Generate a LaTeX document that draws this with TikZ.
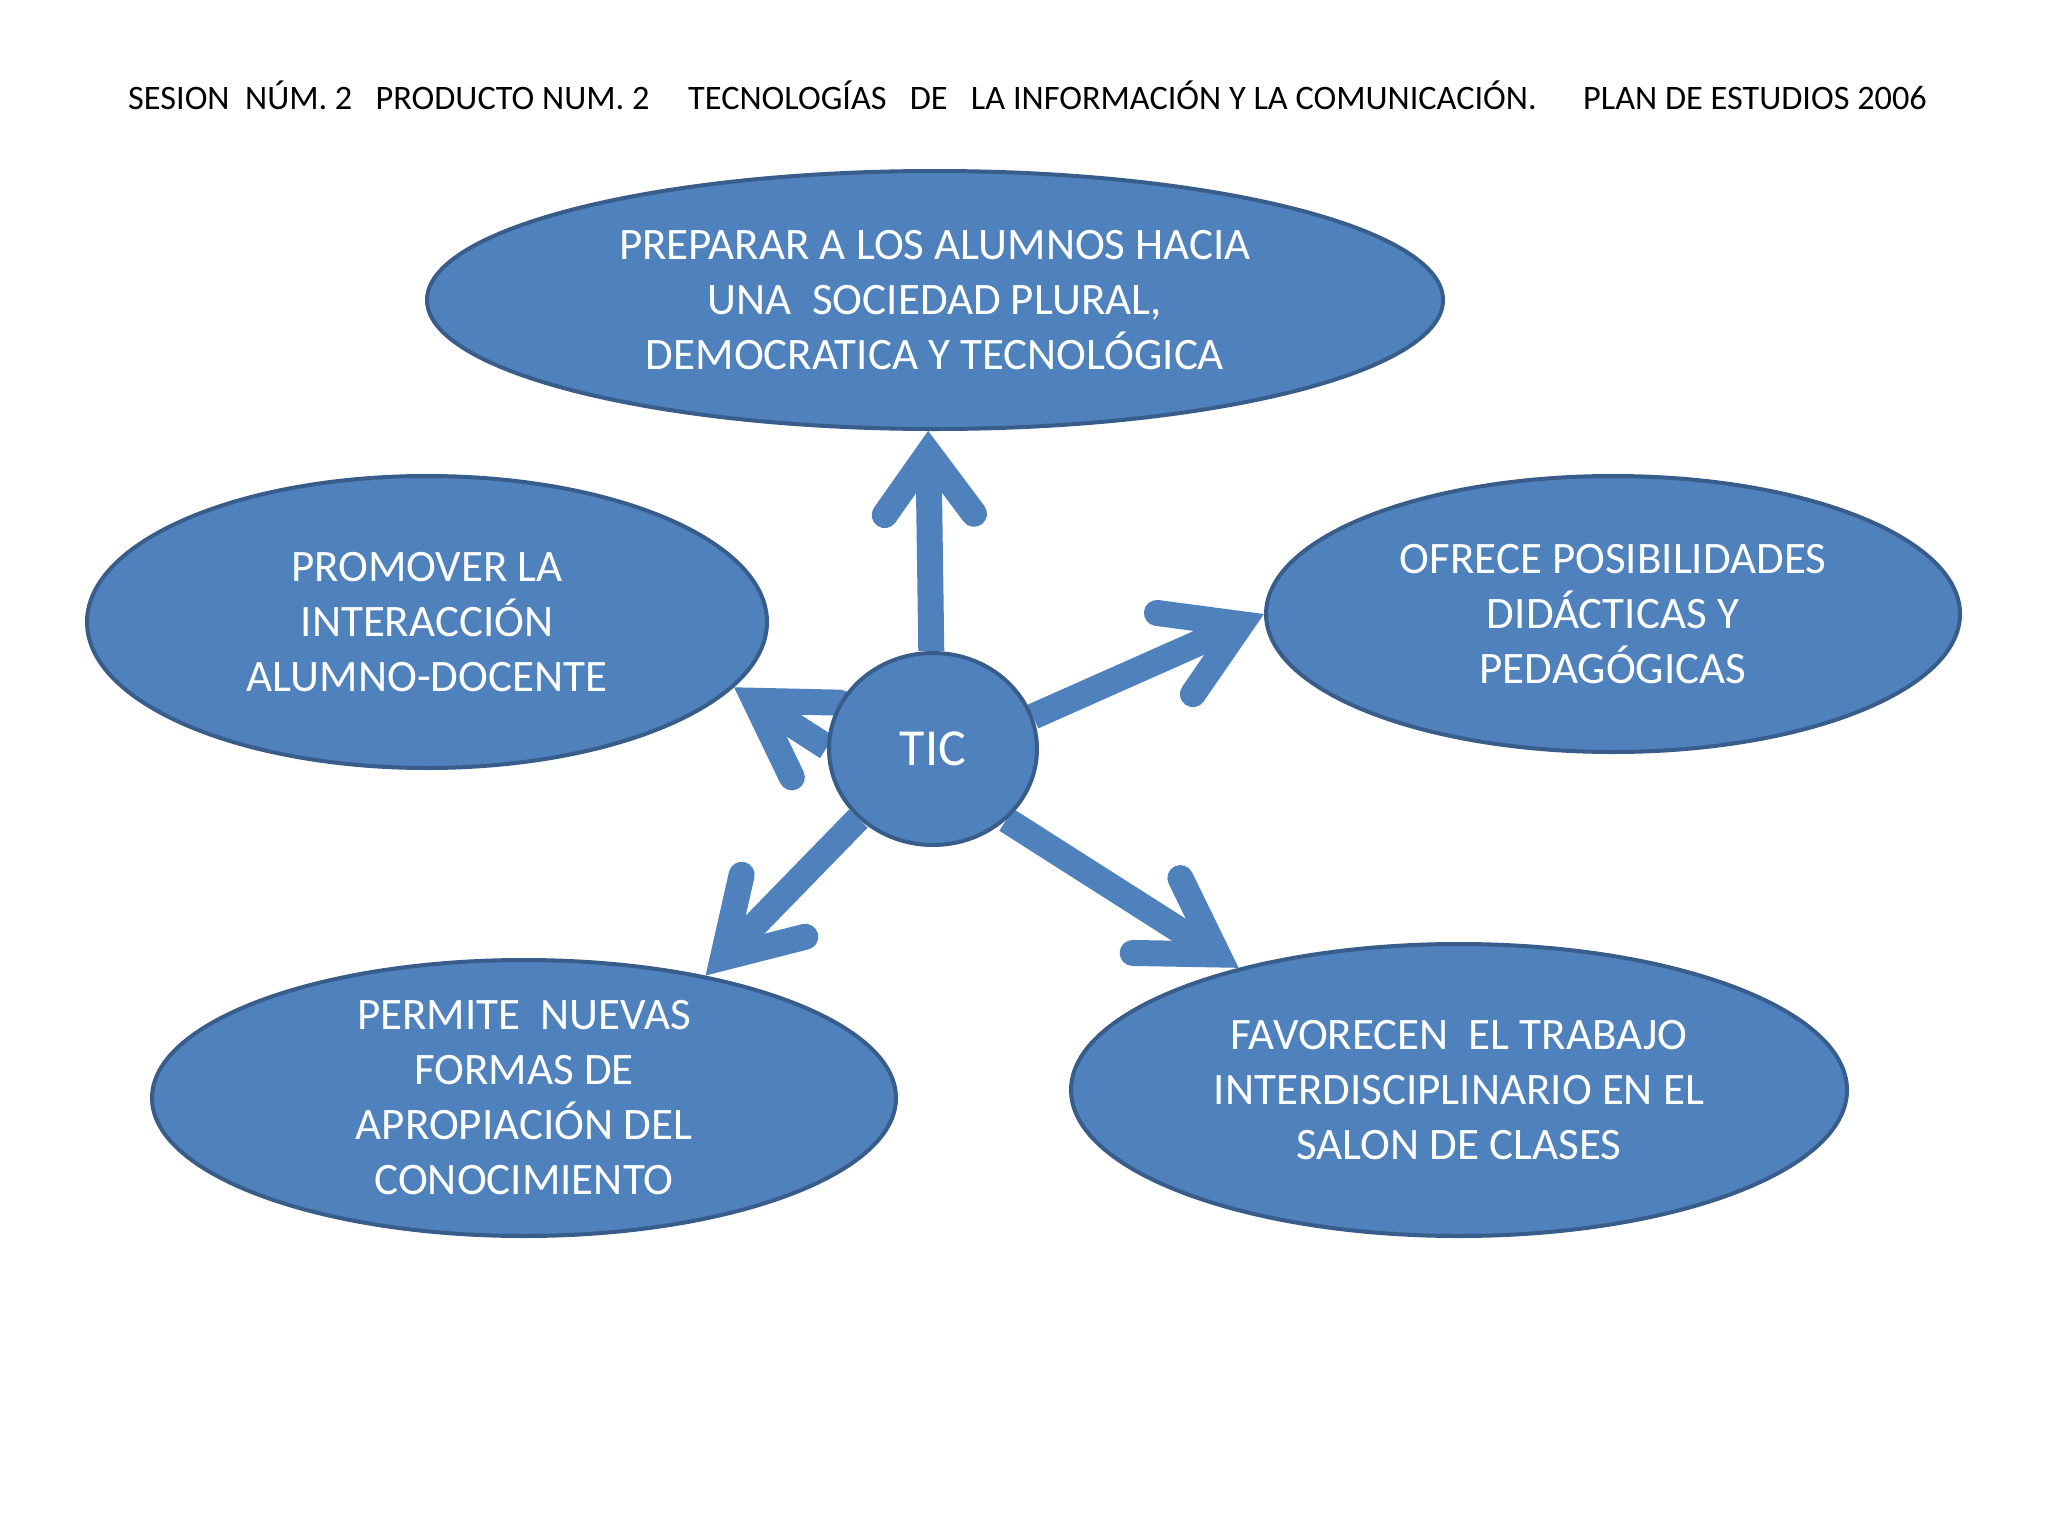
\documentclass[tikz,border=0pt]{standalone}
\usepackage{fontspec}
\setmainfont{Carlito}
\usetikzlibrary{shapes.geometric,calc}
\definecolor{boxfill}{HTML}{4F81BD}
\definecolor{boxline}{HTML}{385D8A}
\pgfdeclarelayer{bg}
\pgfsetlayers{bg,main}
\tikzset{
  bubble/.style={ellipse, fill=boxfill, draw=boxline, line width=4pt, inner sep=0pt,
    text=white, align=center, font=\fontsize{45}{55}\selectfont},
  shaft/.style={draw=boxfill, line width=26pt, line cap=butt},
  barb/.style={draw=boxfill, line width=26pt, line cap=round, line join=miter},
  titletext/.style={font=\fontsize{34.3}{40}\selectfont, anchor=west, inner sep=0pt},
}
% #1 start, #2 tip, #3 half angle of the head, #4 setback of the vertex, #5 barb length
\newcommand\ticarrow[5]{%
  \coordinate (v) at ($(#2)!#4pt!(#1)$);
  \draw[shaft] (#1) -- (v);
  \draw[barb] ($(v)!#5pt!#3:(#1)$) -- (v) -- ($(v)!#5pt!-#3:(#1)$);
}
\begin{document}
\begin{tikzpicture}[x=1pt,y=-1pt]
\useasboundingbox (0,0) rectangle (2048,1536);
\node[titletext] (title) at (128,95) {SESION\ \ NÚM. 2\ \ \ PRODUCTO NUM. 2\ \ \ \ \ TECNOLOGÍAS\ \ \ DE\ \ \ LA INFORMACIÓN Y LA COMUNICACIÓN.\ \ \ \ \ \ PLAN DE ESTUDIOS 2006};
\node[bubble, minimum width=1016pt, minimum height=258pt] (top) at (935,300)
  {PREPARAR A LOS ALUMNOS HACIA\\UNA\ \ SOCIEDAD PLURAL,\\DEMOCRATICA Y TECNOLÓGICA};
\node[bubble, minimum width=680pt, minimum height=292pt] (left) at (427,622)
  {PROMOVER LA\\INTERACCIÓN\\ALUMNO-DOCENTE};
\node[bubble, minimum width=694pt, minimum height=276pt] (right) at (1613,614)
  {OFRECE POSIBILIDADES\\DIDÁCTICAS Y\\PEDAGÓGICAS};
\node[bubble, minimum width=744pt, minimum height=276pt] (bl) at (524,1098)
  {PERMITE\ \ NUEVAS\\FORMAS DE\\APROPIACIÓN DEL\\CONOCIMIENTO};
\node[bubble, minimum width=776pt, minimum height=292pt] (br) at (1459,1090)
  {FAVORECEN\ \ EL TRABAJO\\INTERDISCIPLINARIO EN EL\\SALON DE CLASES};
\node[bubble, minimum width=208pt, minimum height=192pt, font=\fontsize{52}{60}\selectfont] (tic) at (933,749) {TIC};
\begin{pgfonlayer}{bg}
\fill[white] (0,0) rectangle (2048,1536);
\ticarrow{tic.91}{top.-93.5}{36}{22}{76}
\ticarrow{tic.18.3}{right.180}{31.5}{25}{85}
\ticarrow{tic.179.4}{left.-12.9}{31.5}{25}{85}
\ticarrow{tic.223}{bl.34.6}{31.5}{25}{85}
\ticarrow{tic.-44}{br.151.5}{31.5}{25}{85}
\end{pgfonlayer}
\end{tikzpicture}
\end{document}
